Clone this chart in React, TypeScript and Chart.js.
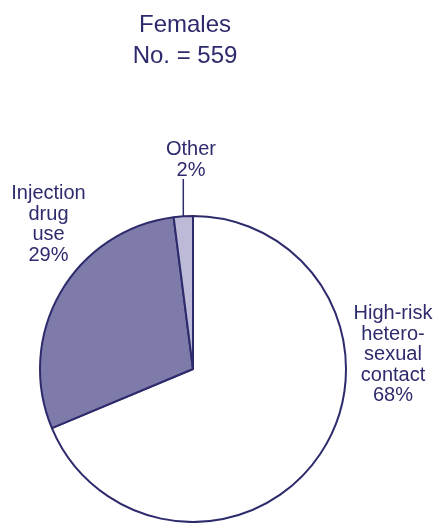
import React, { useEffect, useRef } from "react";
import { Chart, registerables } from "chart.js";

Chart.register(...registerables);

const categories = ["High-risk heterosexual contact", "Injection drug use", "Other"];
const values = [68, 29, 2];
const percentLabels = ["68%", "29%", "2%"];
const labelLines = [
  ["High-risk", "hetero-", "sexual", "contact", "68%"],
  ["Injection", "drug", "use", "29%"],
  ["Other", "2%"],
];
const titleLines = ["Females", "No. = 559"];

const NAVY = "#2e2b6d";
const FONT = "'Liberation Sans', Arial, sans-serif";

const labelPlugin = {
  id: "pieLabels",
  afterDraw(chart: any) {
    const ctx = chart.ctx;
    ctx.save();
    ctx.fillStyle = NAVY;
    ctx.textAlign = "center";
    ctx.textBaseline = "alphabetic";
    // title
    ctx.font = `24px ${FONT}`;
    ctx.fillText(titleLines[0], 185, 32);
    ctx.fillText(titleLines[1], 185, 63);

    ctx.font = `20px ${FONT}`;
    const lh = 20.6;
    const meta = chart.getDatasetMeta(0);
    // hetero label (right)
    labelLines[0].forEach((t, i) => ctx.fillText(t, 393, 319 + i * lh));
    // injection label (left)
    labelLines[1].forEach((t, i) => ctx.fillText(t, 48.5, 199 + i * lh));
    // other label (top)
    labelLines[2].forEach((t, i) => ctx.fillText(t, 191, 155 + i * lh));

    // leader line for Other
    const arc = meta.data[2];
    if (arc) {
      const mid = (arc.startAngle + arc.endAngle) / 2;
      const x = arc.x + arc.outerRadius * Math.cos(mid);
      const y = arc.y + arc.outerRadius * Math.sin(mid);
      ctx.strokeStyle = NAVY;
      ctx.lineWidth = 1.5;
      ctx.beginPath();
      ctx.moveTo(x, 179);
      ctx.lineTo(x, y);
      ctx.stroke();
    }
    ctx.restore();
  },
};

export default function App() {
  const ref = useRef<HTMLCanvasElement>(null);
  useEffect(() => {
    document.body.style.margin = "0";
    const chart = new Chart(ref.current!, {
      type: "pie",
      data: {
        labels: categories,
        datasets: [
          {
            data: values,
            backgroundColor: ["#ffffff", "#7e7aa9", "#bcbad7"],
            borderColor: NAVY,
            borderWidth: 2,
          },
        ],
      },
      options: {
        responsive: false,
        animation: false,
        radius: 153,
        layout: { padding: { left: 40, right: 92, top: 215, bottom: 0 } },
        plugins: {
          legend: { display: false },
          tooltip: { enabled: false },
          title: { display: false },
        },
      } as any,
      plugins: [labelPlugin],
    });
    return () => chart.destroy();
  }, []);
  return (
    <div style={{ position: "fixed", left: 0, top: 0, width: 438, height: 523, background: "#fff" }}>
      <canvas ref={ref} width={438} height={523} style={{ width: 438, height: 523 }} />
    </div>
  );
}
